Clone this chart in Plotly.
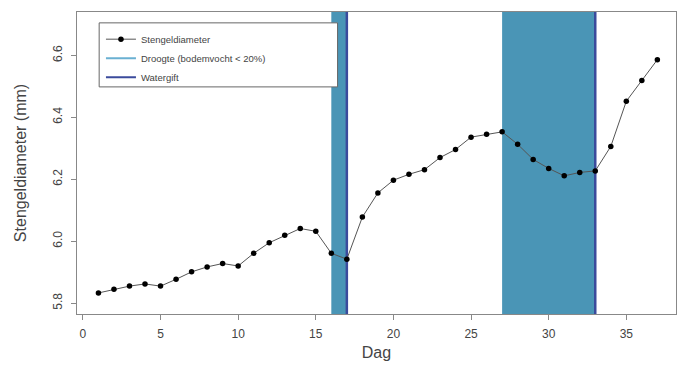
import plotly.graph_objects as go

days = list(range(1, 38))
diameter = [5.833, 5.845, 5.855, 5.862, 5.855, 5.877, 5.901, 5.917, 5.928, 5.920,
            5.961, 5.995, 6.019, 6.041, 6.032, 5.961, 5.942, 6.078, 6.156, 6.197,
            6.216, 6.231, 6.270, 6.296, 6.336, 6.345, 6.353, 6.313, 6.264, 6.235,
            6.211, 6.222, 6.227, 6.306, 6.452, 6.519, 6.586]
drought_start = [16, 27]
drought_end = [17, 33]
watering_days = [17, 33]

band_color = "#4a95b6"
legend_drought_color = "#6ab0d2"
water_color = "#3b4b9c"
text_color = "#444444"

fig = go.Figure()

for s, e in zip(drought_start, drought_end):
    fig.add_vrect(x0=s, x1=e, fillcolor=band_color, opacity=1, line_width=0, layer="below")
for w in watering_days:
    fig.add_vline(x=w, line_color=water_color, line_width=2.5, layer="below")

# legend frame (wider, like the R legend box)
fig.add_shape(type="rect", xref="paper", yref="paper",
              x0=0.037, x1=0.435, y0=0.752, y1=0.964,
              line=dict(color="#666666", width=1), fillcolor="white", layer="above")

fig.add_trace(go.Scatter(
    x=days, y=diameter, mode="lines+markers", name="Stengeldiameter",
    line=dict(color="#555555", width=1),
    marker=dict(color="black", size=5.5, symbol="circle"),
))
fig.add_trace(go.Scatter(x=[None], y=[None], mode="lines", name="Droogte (bodemvocht < 20%)",
                         line=dict(color=legend_drought_color, width=2)))
fig.add_trace(go.Scatter(x=[None], y=[None], mode="lines", name="Watergift",
                         line=dict(color=water_color, width=2)))

axis_common = dict(
    showgrid=False, zeroline=False, showline=True, linecolor="#888888", linewidth=1,
    mirror=True, ticks="outside", ticklen=5, tickcolor="#888888", automargin=False,
    tickfont=dict(family="Liberation Sans, Arial, sans-serif", size=12, color=text_color),
)

fig.update_layout(
    width=682, height=374,
    margin=dict(l=77, r=6, t=12, b=60),
    paper_bgcolor="white", plot_bgcolor="white",
    font=dict(family="Liberation Sans, Arial, sans-serif", color=text_color),
    xaxis=dict(range=[-0.38, 38.2], tickvals=[0, 5, 10, 15, 20, 25, 30, 35],
               ticklabelstandoff=4,
               title=dict(text="Dag", font=dict(size=16, color=text_color), standoff=6),
               **axis_common),
    yaxis=dict(range=[5.765, 6.74], tickvals=[5.8, 6.0, 6.2, 6.4, 6.6],
               ticktext=["5.8", "6.0", "6.2", "6.4", "6.6"], tickangle=-90,
               ticklabelstandoff=4,
               title=dict(text="Stengeldiameter (mm)", font=dict(size=16, color=text_color), standoff=20),
               **axis_common),
    showlegend=True,
    legend=dict(x=0.04, y=0.958, xanchor="left", yanchor="top",
                bgcolor="rgba(0,0,0,0)", borderwidth=0,
                font=dict(size=9.5, color=text_color), tracegroupgap=0,
                itemwidth=30),
)

fig.write_html("out.html", config={"displayModeBar": False},
               post_script="document.body.style.margin='0';")
